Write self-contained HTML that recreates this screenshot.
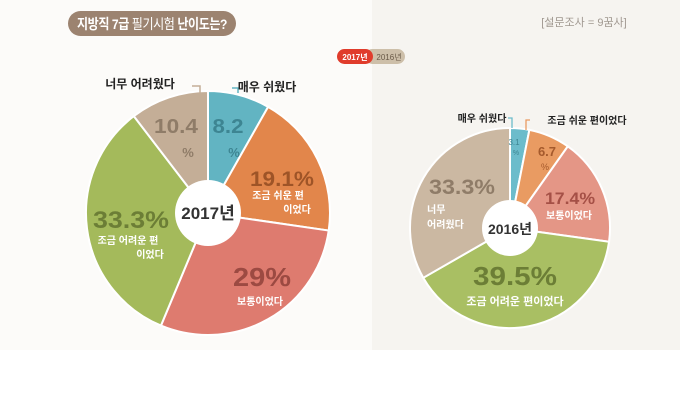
<!DOCTYPE html>
<html><head><meta charset="utf-8">
<style>
body{margin:0;width:680px;height:404px;background:#fff;overflow:hidden;font-family:"Liberation Sans","Noto Sans CJK KR",sans-serif}
svg text{font-family:"Liberation Sans","Noto Sans CJK KR",sans-serif}
</style></head><body>
<svg id="c" width="680" height="404" viewBox="0 0 680 404">
<rect x="0" y="0" width="372" height="350" fill="#fcfbf9"/>
<rect x="372" y="0" width="308" height="350" fill="#f6f4f0"/>
<rect x="68" y="11" width="168" height="25" rx="12.5" fill="#9c8370"/>
<text x="152" y="29" text-anchor="middle" fill="#fff" font-size="14" font-weight="bold" letter-spacing="-0.5" textLength="150" lengthAdjust="spacingAndGlyphs">지방직 7급 <tspan font-weight="normal">필기시험</tspan> 난이도는?</text>
<text x="584" y="26" text-anchor="middle" fill="#a09890" font-size="11">[설문조사 = 9꿈사]</text>
<rect x="365" y="49" width="40" height="15" rx="7.5" fill="#cdbfa9"/>
<rect x="337" y="49" width="36" height="15" rx="7.5" fill="#e03c2c"/>
<text x="355" y="60" text-anchor="middle" fill="#fff" font-size="8" font-weight="bold">2017년</text>
<text x="389" y="60" text-anchor="middle" fill="#6a5a48" font-size="8">2016년</text>
<g id="p17"></g><g id="p16"></g>
<path d="M192,86 L200,86 L200,93" fill="none" stroke="#c4ae97" stroke-width="1.5"/>
<path d="M238,93 L238,88 L232,88" fill="none" stroke="#62b4c2" stroke-width="1.5"/>
<path d="M508,118 L512,118 L512,128" fill="none" stroke="#6cbccb" stroke-width="1.3"/>
<path d="M530,120 L526,120 L526,130" fill="none" stroke="#e99b62" stroke-width="1.3"/>
</svg>
<script>
const cats17=["매우 쉬웠다","조금 쉬운 편이었다","보통이었다","조금 어려운 편이었다","너무 어려웠다"];
const vals17=[8.2,19.1,29,33.3,10.4];
const cats16=["매우 쉬웠다","조금 쉬운 편이었다","보통이었다","조금 어려운 편이었다","너무 어려웠다"];
const vals16=[3.1,6.7,17.4,39.5,33.3];
const colors=["#62b4c2","#e2864b","#de7b6f","#a4ba5b","#c4ae97"];
const colors16=["#6cbccb","#e99b62","#e49686","#a9bf63","#cbb8a2"];
const ns="http://www.w3.org/2000/svg";
const svg=document.getElementById("c");
function pt(cx,cy,r,a){return [cx+r*Math.sin(a),cy-r*Math.cos(a)];}
function pie(g,vals,cols,cx,cy,r,hole,name){
  const tot=vals.reduce((a,b)=>a+b,0);let a0=0;
  vals.forEach((v,i)=>{
    const a1=a0+v/tot*2*Math.PI;
    const [x0,y0]=pt(cx,cy,r,a0),[x1,y1]=pt(cx,cy,r,a1);
    const p=document.createElementNS(ns,"path");
    p.setAttribute("d",`M${cx},${cy}L${x0},${y0}A${r},${r} 0 ${a1-a0>Math.PI?1:0} 1 ${x1},${y1}Z`);
    p.setAttribute("fill",cols[i]);p.setAttribute("stroke","#fff");p.setAttribute("stroke-width","2");
    
    
    g.appendChild(p);a0=a1;
  });
  const c=document.createElementNS(ns,"circle");
  c.setAttribute("cx",cx);c.setAttribute("cy",cy);c.setAttribute("r",hole);c.setAttribute("fill","#fff");
  
  
  g.appendChild(c);
  const t=document.createElementNS(ns,"text");
  t.setAttribute("x",cx);t.setAttribute("y",cy+6);t.setAttribute("text-anchor","middle");
  t.setAttribute("font-size",name==="2017"?"17":"14");t.setAttribute("font-weight","bold");t.setAttribute("fill","#333");
  t.textContent=name+"년";
  
  
  g.appendChild(t);
}
function txt(x,y,s,size,fill,bold,anchor,len){
  const t=document.createElementNS(ns,"text");
  t.setAttribute("x",x);t.setAttribute("y",y);t.setAttribute("font-size",size);t.setAttribute("fill",fill);
  t.setAttribute("text-anchor",anchor||"middle");if(bold)t.setAttribute("font-weight","bold");
  if(len){t.setAttribute("textLength",len);t.setAttribute("lengthAdjust","spacingAndGlyphs");}
  t.textContent=s;
  
  
  svg.appendChild(t);
}
pie(document.getElementById("p17"),vals17,colors,208,213,122,33,"2017");
pie(document.getElementById("p16"),vals16,colors16,510,228,100,28,"2016");
txt(176,133,String(vals17[4]),20,"#8f7c68",true,"middle",44);txt(188,157,"%",13,"#8f7c68",true);
txt(228,133,String(vals17[0]),20,"#3d8592",true,"middle",31);txt(234,157,"%",13,"#3d8592",true);
txt(282,186,vals17[1]+"%",21,"#9e5427",true,"middle",64);
txt(278,199,"조금 쉬운 편",10,"#fff",true);txt(297,213,"이었다",10,"#fff",true);
txt(131,228,vals17[3]+"%",24,"#6c7e36",true,"middle",76);
txt(128,244,"조금 어려운 편",10,"#fff",true);txt(150,258,"이었다",10,"#fff",true);
txt(262,286,vals17[2]+"%",26,"#9c4a42",true,"middle",58);
txt(260,305,"보통이었다",10,"#fff",true);
txt(140,88,cats17[4],12,"#222",true);
txt(267,91,cats17[0],12,"#222",true);
txt(514,145,String(vals16[0]),8,"#3d8592",false);txt(516,155,"%",7,"#3d8592",false);
txt(547,156,String(vals16[1]),13,"#a55a2c",true);txt(545,170,"%",9,"#a55a2c",false);
txt(570,204,vals16[2]+"%",17,"#a55046",true,"middle",50);txt(569,219,"보통이었다",10,"#fff",true);
txt(462,194,vals16[4]+"%",21,"#8f7c68",true,"middle",66);
txt(427,213,"너무",10,"#fff",true,"start");txt(427,228,"어려웠다",10,"#fff",true,"start");
txt(515,285,vals16[3]+"%",26,"#6c7e36",true,"middle",84);txt(515,305,"조금 어려운 편이었다",11,"#fff",true);
txt(482,122,cats16[0],10,"#222",true);txt(587,124,cats16[1],10,"#222",true);
</script>
</body></html>
